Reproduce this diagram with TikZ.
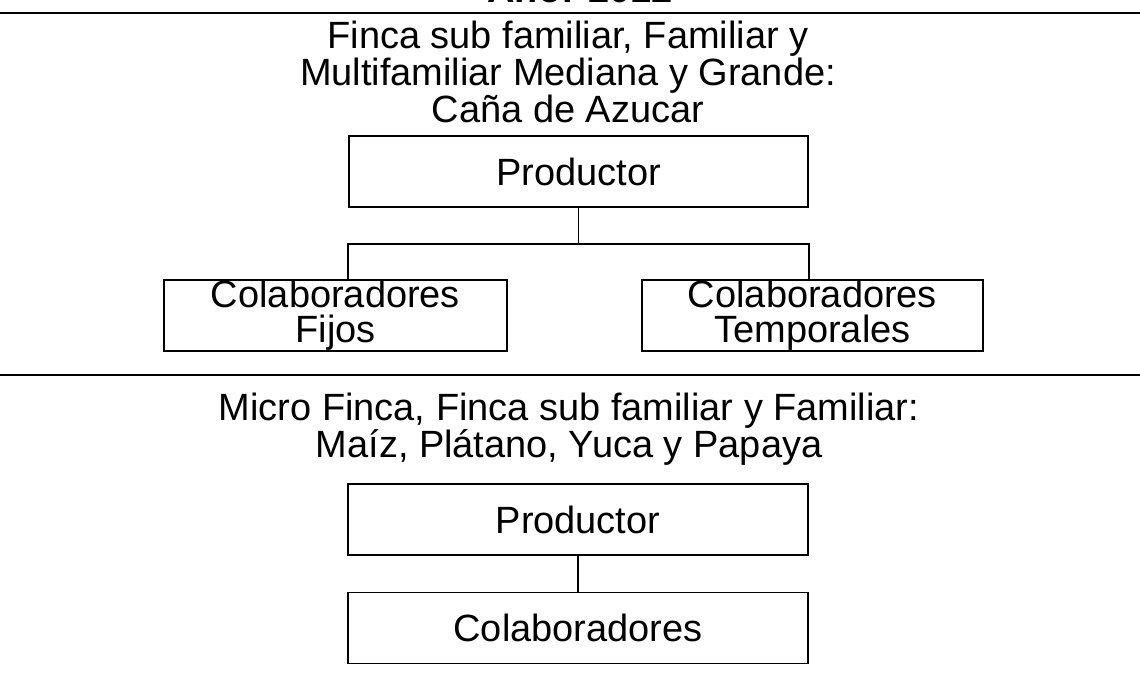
\documentclass[tikz,border=0pt]{standalone}
\usepackage{fontspec}
\setmainfont{Liberation Sans}
\usepackage{tikz}
\usetikzlibrary{positioning}

\begin{document}
\begin{tikzpicture}[x=0.025cm, y=-0.025cm]
\tikzstyle{every node}=[font=\fontsize{27}{24.9}\selectfont, align=center]
\tikzstyle{caja}=[draw, line width=1.2pt, inner sep=0pt, minimum height=1.78cm]
\tikzstyle{raya}=[line width=1.4pt]
\tikzstyle{enlace}=[line width=1.3pt]

\useasboundingbox (0,0) rectangle (1140,677);
\clip (0,0) rectangle (1140,677);

% Titulo
\node[anchor=base, font=\fontsize{27}{25}\selectfont\bfseries] (anio) at (580,3) {Año: 2012};
\coordinate (r1a) at (0,13);
\coordinate (r1b) at (1140,13);
\draw[raya] (r1a) -- (r1b);

% Bloque 1
\node (tit1) at (568,72) {Finca sub familiar, Familiar y\\Multifamiliar Mediana y Grande:\\Caña de Azucar};
\node[caja, minimum width=11.48cm] (prod1) at (578.5,171.5) {Productor};
\node[caja, minimum width=8.58cm] (fijos) at (335.5,315.5) {Colaboradores\\Fijos};
\node[caja, minimum width=8.53cm] (temp) at (812.5,315.5) {Colaboradores\\Temporales};
\draw[enlace] (prod1.south) -- ++(0,36) coordinate (j1);
\draw[enlace] (fijos.north -| prod1.west) |- (j1) -| (temp.north -| prod1.east);

\coordinate (r2a) at (0,375);
\coordinate (r2b) at (1140,375);
\draw[raya] (r2a) -- (r2b);

% Bloque 2
\node (tit2) at (569,429) {Micro Finca, Finca sub familiar y Familiar:\\Maíz, Plátano, Yuca y Papaya};
\node[caja, minimum width=11.5cm] (prod2) at (578,519.5) {Productor};
\node[caja, minimum width=11.5cm] (colab) at (578,628) {Colaboradores};
\draw[enlace] (prod2) -- (colab);
\end{tikzpicture}
\end{document}
